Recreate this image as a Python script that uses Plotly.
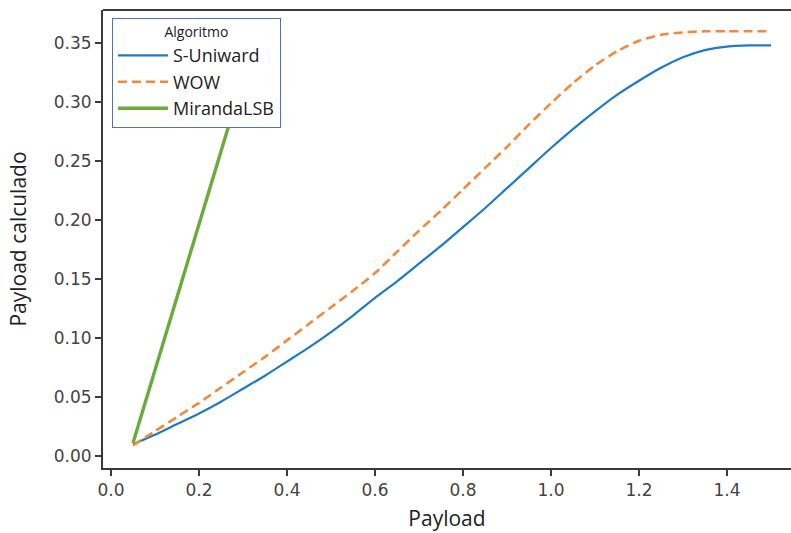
import plotly.graph_objects as go

payload = [0.05, 0.10, 0.15, 0.20, 0.25, 0.30, 0.35, 0.40, 0.45, 0.50,
           0.55, 0.60, 0.65, 0.70, 0.75, 0.80, 0.85, 0.90, 0.95, 1.00,
           1.05, 1.10, 1.15, 1.20, 1.25, 1.30, 1.35, 1.40, 1.45, 1.50]

s_uniward = [0.010, 0.018, 0.027, 0.036, 0.046, 0.057, 0.068, 0.080, 0.092, 0.105,
             0.119, 0.134, 0.148, 0.163, 0.178, 0.194, 0.210, 0.227, 0.244, 0.261,
             0.277, 0.292, 0.306, 0.318, 0.329, 0.338, 0.344, 0.347, 0.348, 0.348]

wow = [0.009, 0.021, 0.033, 0.045, 0.058, 0.071, 0.084, 0.098, 0.112, 0.126,
       0.140, 0.155, 0.173, 0.191, 0.208, 0.226, 0.244, 0.262, 0.281, 0.299,
       0.316, 0.331, 0.343, 0.352, 0.357, 0.359, 0.360, 0.360, 0.360, 0.360]

miranda_x = [0.05, 0.30]
miranda_y = [0.011, 0.320]

x_ticks = [0.0, 0.2, 0.4, 0.6, 0.8, 1.0, 1.2, 1.4]
y_ticks = [0.00, 0.05, 0.10, 0.15, 0.20, 0.25, 0.30, 0.35]

fig = go.Figure()
fig.add_trace(go.Scatter(x=payload, y=s_uniward, mode="lines", name="S-Uniward",
                         line=dict(color="#1f7bc4", width=2.2, shape="spline", smoothing=0.6)))
fig.add_trace(go.Scatter(x=payload, y=wow, mode="lines", name="WOW",
                         line=dict(color="#f08a3c", width=2.6, dash="9px,5px",
                                   shape="spline", smoothing=0.6)))
fig.add_trace(go.Scatter(x=miranda_x, y=miranda_y, mode="lines", name="MirandaLSB",
                         line=dict(color="#6aac3c", width=3.4)))

axis_col = "#3a3a3a"
tick_font = dict(family="DejaVu Sans", size=17, color="#444444")
title_font = dict(family="Open Sans", size=21, color="#222222")

fig.update_layout(
    width=791, height=533,
    margin=dict(l=103, r=0, t=10, b=65),
    paper_bgcolor="white", plot_bgcolor="white",
    showlegend=True,
    legend=dict(
        x=0.013, y=0.9825, xanchor="left", yanchor="top",
        bgcolor="white", bordercolor="#4a72c0", borderwidth=1,
        font=dict(family="Open Sans", size=18, color="#222222"),
        title=dict(text="Algoritmo", side="top center",
                   font=dict(family="Open Sans", size=14, color="#222222")),
        itemwidth=50,
    ),
    xaxis=dict(
        range=[-0.0182, 1.5455], tickvals=x_ticks,
        ticktext=[f"{v:.1f}" for v in x_ticks],
        showgrid=False, zeroline=False,
        showline=True, linecolor=axis_col, linewidth=2,
        ticks="outside", ticklen=6, tickwidth=1.5, tickcolor=axis_col,
        tickfont=tick_font,
        title=dict(text="Payload", font=title_font, standoff=12),
    ),
    yaxis=dict(
        range=[-0.0102, 0.378], tickvals=y_ticks,
        ticktext=[f"{v:.2f}" for v in y_ticks],
        showgrid=False, zeroline=False,
        showline=True, linecolor=axis_col, linewidth=2,
        ticks="outside", ticklen=6, tickwidth=1.5, tickcolor=axis_col,
        tickfont=tick_font,
        title=dict(text="Payload calculado", font=title_font, standoff=21),
    ),
    shapes=[dict(type="line", xref="paper", yref="paper", x0=0, x1=1, y0=1, y1=1,
                 line=dict(color=axis_col, width=2))],
)

fig.write_html("out.html")
